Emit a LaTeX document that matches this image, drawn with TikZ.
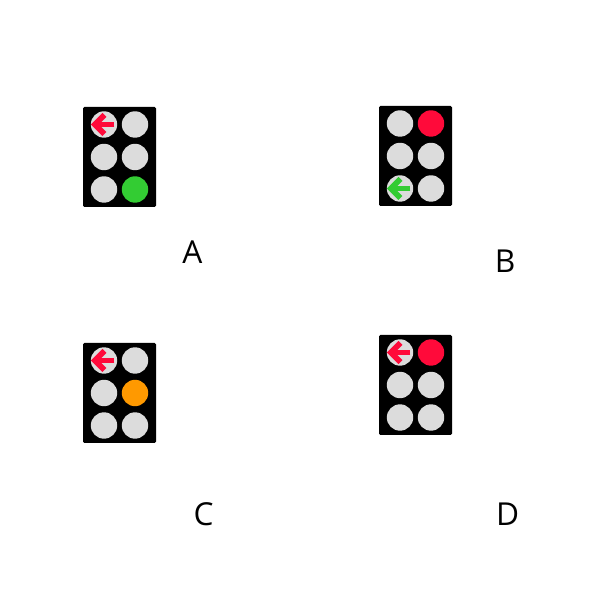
\documentclass[tikz,border=0pt]{standalone}
\usepackage{fontspec}
\setmainfont{Open Sans}
\usetikzlibrary{positioning}
\definecolor{signalred}{HTML}{FF0A3A}
\definecolor{signalgreen}{HTML}{33CC33}
\definecolor{signalorange}{HTML}{FF9900}
\definecolor{lampgrey}{HTML}{DCDCDC}

\begin{document}
\begin{tikzpicture}
      \tikzstyle{panel} = [rectangle, rounded corners=1pt, minimum width=1.825cm, minimum height=2.5cm, inner sep=0pt, fill=black]
      \tikzstyle{lamp} = [circle, minimum size=.66cm, inner sep=0pt, fill=lampgrey]
      \tikzstyle{shaft} = [line width=.14cm]
      \tikzstyle{letter} = [font=\fontsize{22.5}{26}\selectfont]
      \tikzset{A-2-3/.style={fill=signalgreen}, B-2-1/.style={fill=signalred},
               C-2-2/.style={fill=signalorange}, D-2-1/.style={fill=signalred}}

      \useasboundingbox (0cm, 0cm) rectangle (15cm, 15cm);

      \foreach \name/\px/\py in {A/2.9875/11.075, B/10.3875/11.1, C/2.9875/5.175, D/10.3875/5.375}
      {
        \node[panel] (\name) at (\px cm, \py cm) {};
        \foreach \c/\dx in {1/-0.3875, 2/0.3875}
          \foreach \r/\dy in {1/0.8125, 2/0, 3/-0.8125}
            \node[lamp, \name-\c-\r/.try] (\name-\c-\r) at (\px cm + \dx cm, \py cm + \dy cm) {};
      }

      \foreach \l/\col in {A-1-1/signalred, B-1-3/signalgreen, C-1-1/signalred, D-1-1/signalred}
      {
        \draw[shaft, \col] ([xshift=.26cm]\l.center) -- ([xshift=-.15cm]\l.center);
        \draw[shaft, \col, miter limit=4] ([xshift=.01cm, yshift=.24cm]\l.center) -- ([xshift=-.23cm]\l.center) -- ([xshift=.01cm, yshift=-.24cm]\l.center);
      }

      \node[letter] (label-A) at (4.81cm, 8.7cm) {A};
      \node[letter] (label-B) at (12.63cm, 8.475cm) {B};
      \node[letter] (label-C) at (5.09cm, 2.15cm) {C};
      \node[letter] (label-D) at (12.69cm, 2.15cm) {D};
\end{tikzpicture}
\end{document}
